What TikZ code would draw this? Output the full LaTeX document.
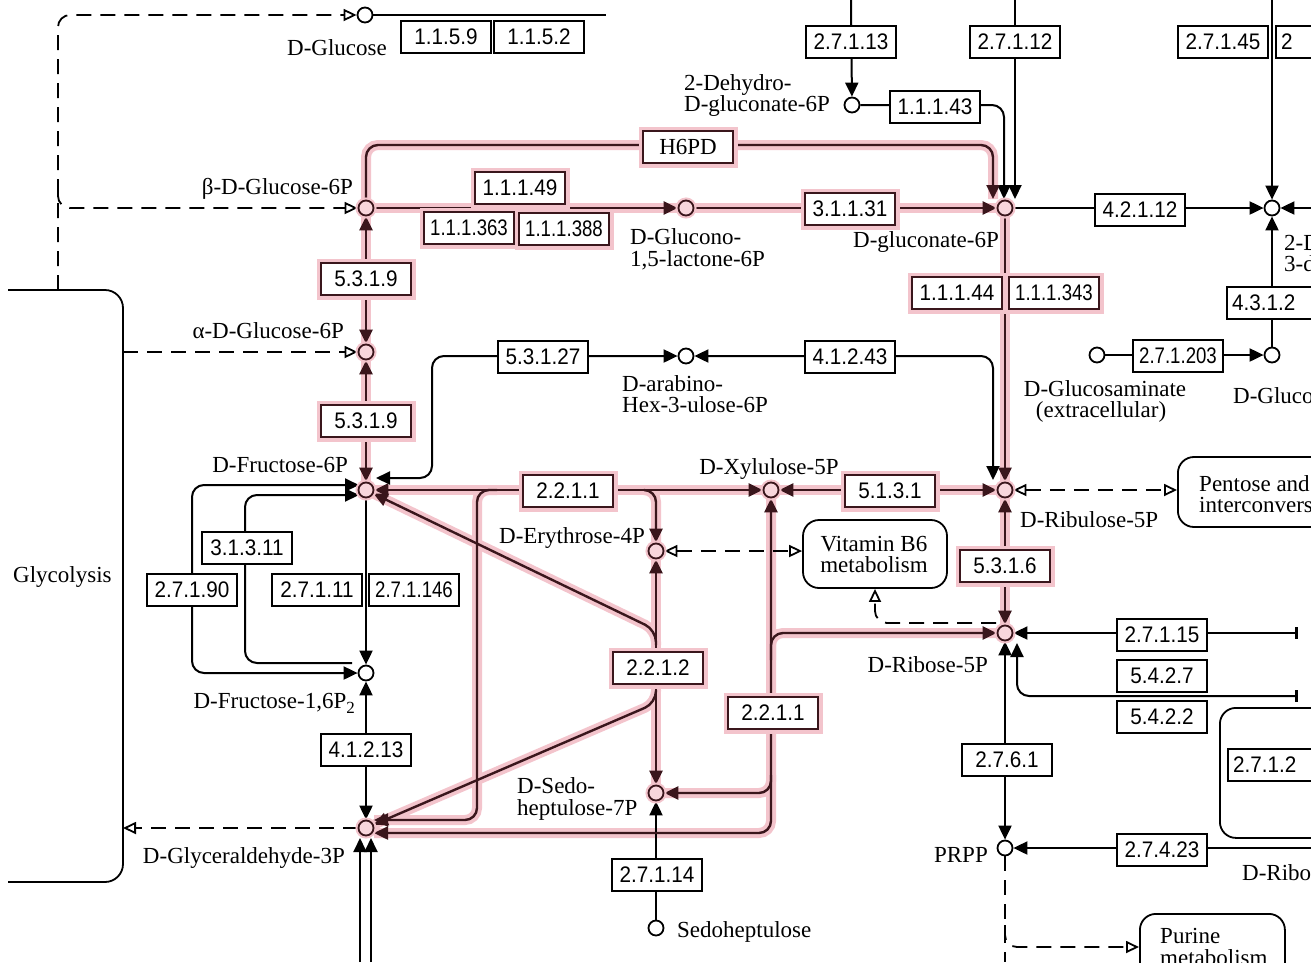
\documentclass[tikz,border=0pt]{standalone}
\usepackage{fontspec}
\usepackage{graphicx}
\setmainfont{Liberation Serif}
\newfontfamily\ecfont{Liberation Sans}[FakeStretch=0.92]
\usetikzlibrary{arrows.meta}
\pgfdeclarelayer{halo}
\pgfdeclarelayer{lines}
\pgfsetlayers{halo,lines,main}

\definecolor{hlpink}{RGB}{243,196,204}
\definecolor{hldark}{RGB}{58,22,28}
\definecolor{cpdpink}{RGB}{248,214,220}

\tikzset{
  tri/.tip={Triangle[length=14pt,width=13pt]},
  otri/.tip={Triangle[open,fill=white,length=13pt,width=12pt]},
  conn/.style={line width=2pt, rounded corners=12pt},
  hl/.style={line width=2.4pt, draw=hldark, rounded corners=12pt},
  halo/.style={line width=10pt, draw=hlpink, rounded corners=12pt},
  dline/.style={line width=1.8pt, dash pattern=on 15pt off 9pt, rounded corners=12pt},
  cpd/.style={circle, draw, line width=1.8pt, minimum size=15pt, inner sep=0pt, fill=white},
  hlcpd/.style={cpd, draw=hldark, fill=cpdpink, preaction={draw=hlpink, line width=6pt}},
  ec/.style={draw, fill=white, line width=1.8pt, minimum width=90pt, minimum height=32pt,
             inner sep=0pt, font=\ecfont\fontsize{22.5}{22.5}\selectfont},
  hlec/.style={ec, draw=hldark, preaction={draw=hlpink, line width=9pt}},
  lbl/.style={font=\fontsize{23}{23}\selectfont, inner sep=0pt},
  mapbox/.style={draw, line width=1.8pt, rounded corners=16pt, fill=white, inner sep=0pt}
}

% squeezed enzyme numbers
\newcommand\sq[1]{\scalebox{0.9}[1]{#1}}
% plain, dashed and highlighted reaction lines
\newcommand\rxn[2][]{\begin{pgfonlayer}{lines}\draw[conn,#1] #2;\end{pgfonlayer}}
\newcommand\dashrxn[2][]{\begin{pgfonlayer}{lines}\draw[dline,#1] #2;\end{pgfonlayer}}
\newcommand\hlrxn[2][]{\begin{pgfonlayer}{halo}\draw[halo] #2;\end{pgfonlayer}%
  \begin{pgfonlayer}{lines}\draw[hl,#1] #2;\end{pgfonlayer}}

\begin{document}
\begin{tikzpicture}[x=1pt,y=-1pt]
\useasboundingbox (0,0) rectangle (1311,962);
\begin{pgfonlayer}{halo}
  \fill[white] (0,0) rectangle (1311,962);
\end{pgfonlayer}
\clip (0,0) rectangle (1311,962);

% ---------- compounds ----------
\node[cpd]   (glc)  at (365,15)  {};
\node[hlcpd] (bg6p) at (366,208) {};
\node[hlcpd] (ag6p) at (366,352) {};
\node[hlcpd] (f6p)  at (366,490) {};
\node[cpd]   (f16)  at (366,673) {};
\node[hlcpd] (gap)  at (366,828) {};
\node[hlcpd] (glno) at (686,208) {};
\node[hlcpd] (gnt)  at (1005,208) {};
\node[cpd]   (dhg)  at (852,105) {};
\node[cpd]   (arab) at (686,356) {};
\node[hlcpd] (xyl)  at (771,490) {};
\node[hlcpd] (ery)  at (656,551) {};
\node[hlcpd] (sedo) at (656,793) {};
\node[hlcpd] (ru5p) at (1005,490) {};
\node[hlcpd] (r5p)  at (1005,633) {};
\node[cpd]   (prpp) at (1005,848) {};
\node[cpd]   (sedh) at (656,928) {};
\node[cpd]   (kdg)  at (1272,208) {};
\node[cpd]   (gmx)  at (1097,355) {};
\node[cpd]   (gm)   at (1272,355) {};

% ---------- pathway map boxes ----------
\draw[line width=1.8pt, rounded corners=18pt] (8,290) -- (123,290) -- (123,882) -- (8,882);
\node[lbl, anchor=base west] (tglyc) at (13,582) {Glycolysis};
\node[mapbox, minimum width=144pt, minimum height=68pt] (vb6) at (875,554) {};
\node[lbl, anchor=base] (tvb6a) at (874,551) {Vitamin B6};
\node[lbl, anchor=base] (tvb6b) at (874,572) {metabolism};
\node[mapbox, anchor=west, minimum width=200pt, minimum height=70pt] (pent) at (1177,492) {};
\node[lbl, anchor=base west] (tpent1) at (1199,491) {Pentose and};
\node[lbl, anchor=base west] (tpent2) at (1199,512) {interconversions};
\node[mapbox, anchor=north west, minimum width=150pt, minimum height=130pt] (drib) at (1219,707) {};
\node[mapbox, anchor=north west, minimum width=145pt, minimum height=90pt] (pur) at (1139,913) {};
\node[lbl, anchor=base west] (tpur1) at (1160,943) {Purine};
\node[lbl, anchor=base west] (tpur2) at (1160,965) {metabolism};

% ---------- enzymes ----------
\node[ec] (e1159)  at (446,37)  {1.1.5.9};
\node[ec] (e1152)  at (539,37)  {1.1.5.2};
\node[ec] (e27113) at (851,42)  {2.7.1.13};
\node[ec] (e27112) at (1015,42) {2.7.1.12};
\node[ec] (e27145) at (1223,42) {2.7.1.45};
\node[ec, text width=80pt, align=left] (e27x) at (1321,42) {2};
\node[ec] (e11143) at (935,107) {1.1.1.43};
\node[hlec, font=\fontsize{23}{23}\selectfont] (h6pd) at (688,147) {H6PD};
\node[hlec] (e11149)  at (520,188) {1.1.1.49};
\node[hlec] (e111363) at (469,228) {\sq{1.1.1.363}};
\node[hlec] (e111388) at (564,229) {\sq{1.1.1.388}};
\node[hlec] (e31131)  at (850,209) {3.1.1.31};
\node[ec]   (e42112)  at (1140,210) {4.2.1.12};
\node[ec, text width=80pt, align=left] (e4312) at (1272,303) {4.3.1.2};
\node[hlec] (e5319a)  at (366,279) {5.3.1.9};
\node[hlec] (e11144)  at (957,293) {1.1.1.44};
\node[hlec] (e111343) at (1054,293) {\sq{1.1.1.343}};
\node[ec]   (e53127)  at (543,357) {5.3.1.27};
\node[ec]   (e41243)  at (850,357) {4.1.2.43};
\node[ec]   (e271203) at (1178,356) {\sq{2.7.1.203}};
\node[hlec] (e5319b)  at (366,421) {5.3.1.9};
\node[hlec] (e2211a)  at (568,491) {2.2.1.1};
\node[hlec] (e5131)   at (890,491) {5.1.3.1};
\node[hlec] (e5316)   at (1005,566) {5.3.1.6};
\node[ec]   (e31311)  at (247,548) {3.1.3.11};
\node[ec]   (e27190)  at (192,590) {2.7.1.90};
\node[ec]   (e27111)  at (317,590) {2.7.1.11};
\node[ec]   (e271146) at (414,590) {\sq{2.7.1.146}};
\node[hlec] (e2212)   at (658,668) {2.2.1.2};
\node[hlec] (e2211b)  at (773,713) {2.2.1.1};
\node[ec]   (e41213)  at (366,750) {4.1.2.13};
\node[ec]   (e27115)  at (1162,635) {2.7.1.15};
\node[ec]   (e5427)   at (1162,676) {5.4.2.7};
\node[ec]   (e5422)   at (1162,717) {5.4.2.2};
\node[ec]   (e2761)   at (1007,760) {2.7.6.1};
\node[ec]   (e27423)  at (1162,850) {2.7.4.23};
\node[ec]   (e27114)  at (657,875) {2.7.1.14};
\node[ec, text width=80pt, align=left] (e2712) at (1273,765) {2.7.1.2};

% ---------- compound labels ----------
\node[lbl, anchor=base]      (tglc)   at (337,55)  {D-Glucose};
\node[lbl, anchor=base east] (tbg6p)  at (353,194) {β-D-Glucose-6P};
\node[lbl, anchor=base east] (tag6p)  at (344,338) {α-D-Glucose-6P};
\node[lbl, anchor=base east] (tf6p)   at (348,472) {D-Fructose-6P};
\node[lbl, anchor=base east] (tf16)   at (355,708) {D-Fructose-1,6P\raisebox{-5pt}{\fontsize{17}{17}\selectfont 2}};
\node[lbl, anchor=base east] (tgap)   at (345,863) {D-Glyceraldehyde-3P};
\node[lbl, anchor=base west] (tdhg1)  at (684,90)  {2-Dehydro-};
\node[lbl, anchor=base west] (tdhg2)  at (684,111) {D-gluconate-6P};
\node[lbl, anchor=base west] (tglno1) at (630,244) {D-Glucono-};
\node[lbl, anchor=base west] (tglno2) at (630,266) {1,5-lactone-6P};
\node[lbl, anchor=base east] (tgnt)   at (999,247) {D-gluconate-6P};
\node[lbl, anchor=base west] (tarab1) at (622,391) {D-arabino-};
\node[lbl, anchor=base west] (tarab2) at (622,412) {Hex-3-ulose-6P};
\node[lbl, anchor=base]      (txyl)   at (769,474) {D-Xylulose-5P};
\node[lbl, anchor=base east] (tery)   at (645,543) {D-Erythrose-4P};
\node[lbl, anchor=base west] (tsedo1) at (517,793) {D-Sedo-};
\node[lbl, anchor=base west] (tsedo2) at (517,815) {heptulose-7P};
\node[lbl, anchor=base west] (tsedh)  at (677,937) {Sedoheptulose};
\node[lbl, anchor=base west] (tru5p)  at (1020,527) {D-Ribulose-5P};
\node[lbl, anchor=base east] (tr5p)   at (988,672) {D-Ribose-5P};
\node[lbl, anchor=base east] (tprpp)  at (988,862) {PRPP};
\node[lbl, anchor=base]      (tgmx1)  at (1105,396) {D-Glucosaminate};
\node[lbl, anchor=base]      (tgmx2)  at (1101,417) {(extracellular)};
\node[lbl, anchor=base west] (tgm)    at (1233,403) {D-Glucosaminate-6P};
\node[lbl, anchor=base west] (tkdg1)  at (1284,250) {2-Dehydro-};
\node[lbl, anchor=base west] (tkdg2)  at (1284,271) {3-deoxy-6-phospho-D-gluconate};
\node[lbl, anchor=base west] (tdrib)  at (1242,880) {D-Ribose};

% ---------- dashed links to other maps ----------
\dashrxn[-{otri}]{(58,290) -- (58,15) -- (glc)}
\dashrxn[-{otri}]{(58,190) |- (bg6p)}
\dashrxn[-{otri}]{(123,352) -- (ag6p)}
\dashrxn[-{otri}]{(gap) -- (123,828)}
\dashrxn[{otri}-{otri}]{(ery) -- (vb6.west |- ery)}
\dashrxn[-{otri}]{(996,623) -| (vb6.south)}
\dashrxn[{otri}-{otri}]{(ru5p) -- (pent.west |- ru5p)}
\dashrxn{(prpp) -- (1005,962)}
\dashrxn[-{otri}]{(1005,925) |- (pur.west |- 0,947)}

% ---------- plain reactions ----------
\rxn{(glc) -- (606,15)}
\rxn[-{tri}]{(851,0) -- (dhg)}
\rxn[-{tri}]{(dhg) -- (1004,105) -- (1004,199)}
\rxn[-{tri}]{(1015,0) -- (1015,199)}
\rxn[-{tri}]{(1272,0) -- (kdg)}
\rxn[-{tri}]{(1311,208) -- (kdg)}
\rxn[-{tri}]{(gnt) -- (kdg)}
\rxn[-{tri}]{(gm) -- (kdg)}
\rxn[-{tri}]{(gmx) -- (gm)}
\rxn[{tri}-{tri}]{(376,478) -- (432,478) -- (432,356) -- (arab)}
\rxn[{tri}-{tri}]{(arab) -- (993,356) -- (993,480)}
\rxn[-{tri}]{(f6p) -- (f16)}
\rxn[{tri}-{tri}]{(359,485) -- (192,485) -- (192,673) -- (f16)}
\rxn[-{tri}]{(352,663) -- (245,663) -- (245,495) -- (359,495)}
\rxn[{tri}-{tri}]{(f16) -- (gap)}
\rxn[-{tri}]{(360,962) -- (360,838)}
\rxn[-{tri}]{(371,962) -- (371,838)}
\rxn[-{tri}]{(sedh) -- (sedo)}
\rxn[-{tri}]{(1296,633) -- (r5p)}
\rxn[-{tri}]{(1296,696) -- (1017,696) -- (1017,643)}
\rxn[{tri}-{tri}]{(r5p) -- (prpp)}
\rxn[-{tri}]{(1311,848) -- (prpp)}
\rxn[line width=3pt]{(1296,627) -- (1296,639)}
\rxn[line width=3pt]{(1296,690) -- (1296,702)}

% ---------- highlighted reactions ----------
\hlrxn[{tri}-{tri}]{(bg6p) -- (ag6p)}
\hlrxn[{tri}-{tri}]{(ag6p) -- (f6p)}
\hlrxn[-{tri}]{(bg6p) -- (366,145) -- (993,145) -- (993,199)}
\hlrxn[-{tri}]{(bg6p) -- (glno)}
\hlrxn[-{tri}]{(glno) -- (gnt)}
\hlrxn[-{tri}]{(gnt) -- (ru5p)}
\hlrxn[{tri}-{tri}]{(f6p) -- (xyl)}
\hlrxn[-{tri}]{(497,490) -- (477,490) -- (477,820) -- (374,820)}
\hlrxn[-{tri}]{(645,490) -- (656,490) -- (ery)}
\hlrxn[{tri}-{tri}]{(ery) -- (sedo)}
\hlrxn[-{tri}]{(656,645) -- (656,630) -- (f6p)}
\hlrxn[-{tri}]{(656,690) -- (656,703) -- (gap)}
\hlrxn[{tri}-{tri}]{(xyl) -- (771,833) -- (374,833)}
\hlrxn[-{tri}]{(771,660) -- (771,633) -- (r5p)}
\hlrxn[-{tri}]{(771,775) -- (771,793) -- (sedo)}
\hlrxn[{tri}-{tri}]{(xyl) -- (ru5p)}
\hlrxn[{tri}-{tri}]{(ru5p) -- (r5p)}
\end{tikzpicture}
\end{document}
